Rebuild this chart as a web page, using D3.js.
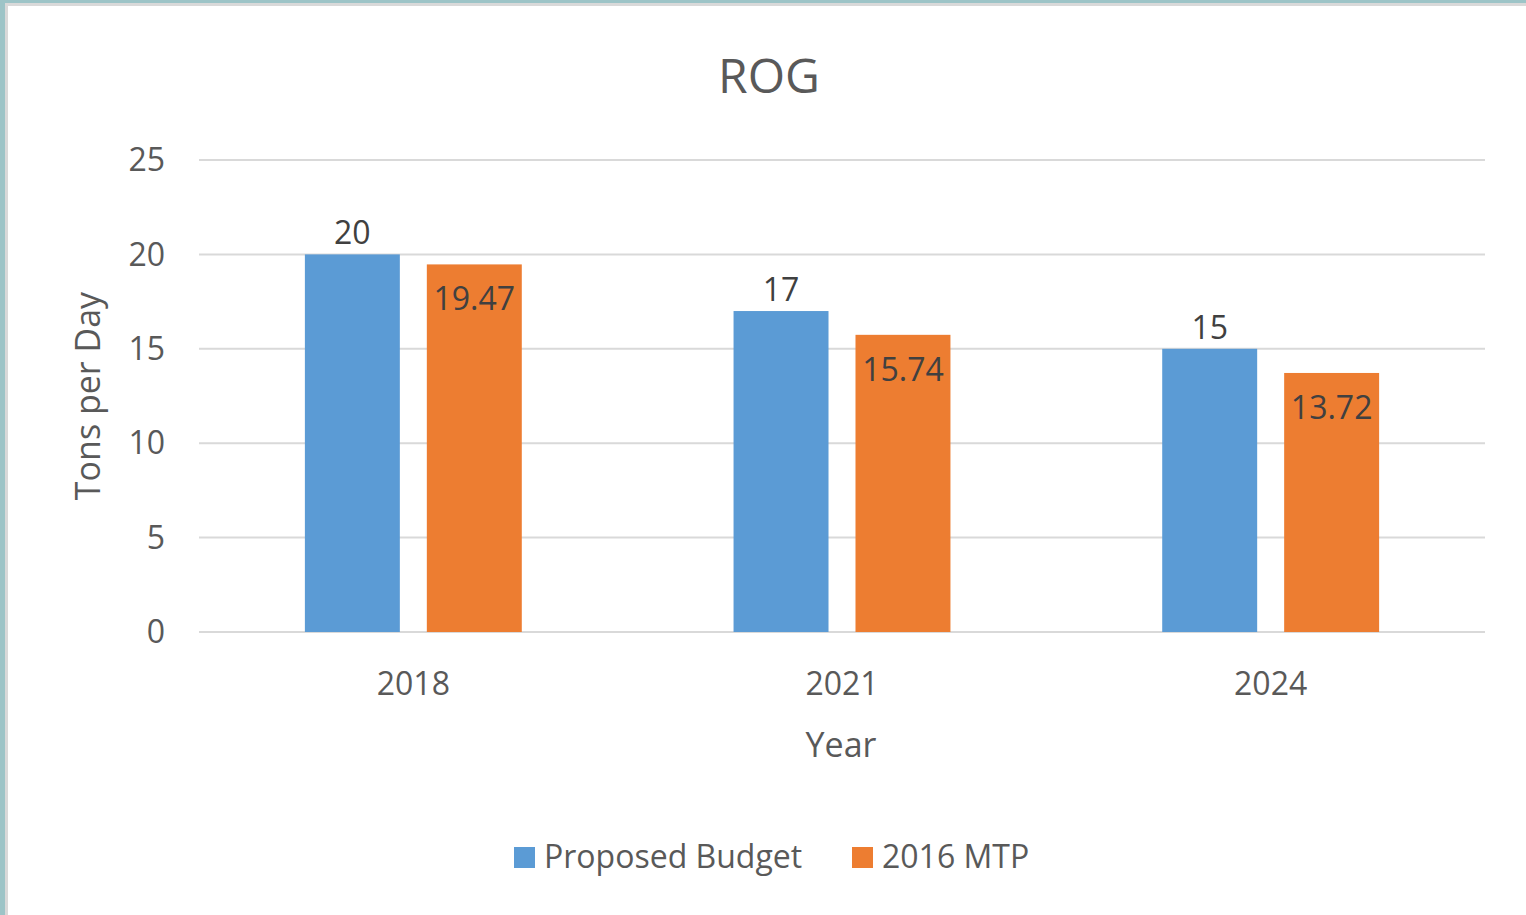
<!DOCTYPE html>
<html>
<head>
<meta charset="utf-8">
<script src="https://cdn.jsdelivr.net/npm/d3@7"></script>
<style>
  html, body { margin: 0; padding: 0; background: #fff; }
  svg text { font-family: "Open Sans", "Segoe UI", sans-serif; }
</style>
</head>
<body>
<div id="chart"></div>
<script>
// Data
const years = ['2018', '2021', '2024'];
const seriesNames = ['Proposed Budget', '2016 MTP'];
const proposedBudget = [20, 17, 15];
const mtp2016 = [19.47, 15.74, 13.72];
const yTicks = [0, 5, 10, 15, 20, 25];
const colors = ['#5b9bd5', '#ed7d31'];

const W = 1526, H = 915;
const svg = d3.select('#chart').append('svg')
    .attr('width', W)
    .attr('height', H);

// Slide frame
svg.append('rect').attr('x', 0).attr('y', 0).attr('width', W).attr('height', H).attr('fill', '#9dc4c7');
svg.append('rect').attr('x', 5).attr('y', 3).attr('width', W - 5).attr('height', H - 3).attr('fill', '#d9d9d9');
svg.append('rect').attr('x', 8).attr('y', 6).attr('width', W - 8).attr('height', H - 6).attr('fill', '#ffffff');

// Scales
const x = d3.scaleBand()
    .domain(years)
    .range([199, 1485])
    .paddingInner(0.494)
    .paddingOuter(0.247);

const xInner = d3.scaleBand()
    .domain(seriesNames)
    .range([0, x.bandwidth()])
    .paddingInner(0.2213);

const y = d3.scaleLinear()
    .domain([0, 25])
    .range([632, 160]);

// Gridlines
svg.append('g')
    .selectAll('line')
    .data(yTicks)
    .enter().append('line')
    .attr('x1', 199)
    .attr('x2', 1485)
    .attr('y1', d => y(d))
    .attr('y2', d => y(d))
    .attr('stroke', '#d9d9d9')
    .attr('stroke-width', 2);

// Y tick labels
svg.append('g')
    .selectAll('text')
    .data(yTicks)
    .enter().append('text')
    .attr('x', 165)
    .attr('y', d => y(d))
    .attr('dy', '0.35em')
    .attr('text-anchor', 'end')
    .attr('font-size', 32)
    .attr('fill', '#595959')
    .text(d => d);

// X tick labels
svg.append('g')
    .selectAll('text')
    .data(years)
    .enter().append('text')
    .attr('x', d => x(d) + x.bandwidth() / 2)
    .attr('y', 695)
    .attr('text-anchor', 'middle')
    .attr('font-size', 32)
    .attr('fill', '#595959')
    .text(d => d);

// Bars
const rows = years.map((yr, i) => ({ year: yr, values: [proposedBudget[i], mtp2016[i]] }));

const groups = svg.append('g')
    .selectAll('g')
    .data(rows)
    .enter().append('g')
    .attr('transform', d => `translate(${x(d.year)},0)`);

groups.selectAll('rect')
    .data(d => d.values.map((v, j) => ({ key: seriesNames[j], value: v, j })))
    .enter().append('rect')
    .attr('x', d => xInner(d.key))
    .attr('y', d => y(d.value))
    .attr('width', xInner.bandwidth())
    .attr('height', d => y(0) - y(d.value))
    .attr('fill', d => colors[d.j]);

// Data labels: blue above the bar, orange inside the top
groups.selectAll('text')
    .data(d => d.values.map((v, j) => ({ key: seriesNames[j], value: v, j })))
    .enter().append('text')
    .attr('x', d => xInner(d.key) + xInner.bandwidth() / 2)
    .attr('y', d => d.j === 0 ? y(d.value) - 10 : y(d.value) + 46)
    .attr('text-anchor', 'middle')
    .attr('font-size', 32)
    .attr('fill', '#404040')
    .text(d => d.value);

// Title
svg.append('text')
    .attr('x', 769)
    .attr('y', 93)
    .attr('text-anchor', 'middle')
    .attr('font-size', 48)
    .attr('fill', '#595959')
    .text('ROG');

// Axis titles
svg.append('text')
    .attr('x', 841)
    .attr('y', 757)
    .attr('text-anchor', 'middle')
    .attr('font-size', 34)
    .attr('fill', '#595959')
    .text('Year');

svg.append('text')
    .attr('transform', 'translate(100,396) rotate(-90)')
    .attr('text-anchor', 'middle')
    .attr('font-size', 34)
    .attr('fill', '#595959')
    .text('Tons per Day');

// Legend
const legendX = [514, 852];
const legend = svg.append('g')
    .selectAll('g')
    .data(seriesNames)
    .enter().append('g')
    .attr('transform', (d, i) => `translate(${legendX[i]},847)`);

legend.append('rect')
    .attr('width', 21)
    .attr('height', 21)
    .attr('fill', (d, i) => colors[i]);

legend.append('text')
    .attr('x', 30)
    .attr('y', 21)
    .attr('font-size', 32)
    .attr('fill', '#595959')
    .text(d => d);
</script>
</body>
</html>
